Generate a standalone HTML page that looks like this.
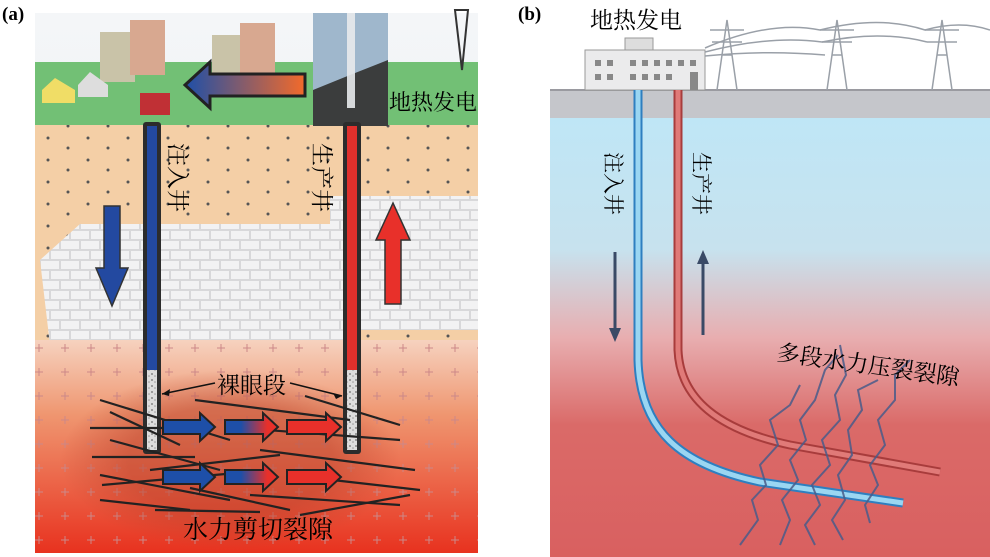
<!DOCTYPE html>
<html><head><meta charset="utf-8"><style>
html,body{margin:0;padding:0;background:#fff;width:990px;height:557px;overflow:hidden}
svg text{font-family:"Liberation Serif","Noto Serif CJK SC",serif}
</style></head><body>
<svg width="990" height="557" viewBox="0 0 990 557" xmlns="http://www.w3.org/2000/svg">
<defs>
<linearGradient id="redA" x1="0" y1="0" x2="0" y2="1">
<stop offset="0" stop-color="#f6d2bf"/><stop offset="0.35" stop-color="#ef9670"/><stop offset="1" stop-color="#e8321f"/></linearGradient>
<linearGradient id="skyA" x1="0" y1="0" x2="0" y2="1"><stop offset="0" stop-color="#f4f6f8"/><stop offset="1" stop-color="#e4ebee"/></linearGradient>
<linearGradient id="arrL" x1="0" x2="1"><stop offset="0" stop-color="#1e4fa8"/><stop offset="1" stop-color="#f36a2a"/></linearGradient>
<linearGradient id="arrM" x1="0" x2="1"><stop offset="0.3" stop-color="#1e4fa8"/><stop offset="0.8" stop-color="#e8302a"/></linearGradient>
<linearGradient id="bgB" x1="0" y1="0" x2="0" y2="1">
<stop offset="0" stop-color="#bfe6f6"/><stop offset="0.3" stop-color="#c7e2ee"/><stop offset="0.5" stop-color="#e8aeb0"/><stop offset="0.7" stop-color="#da6a68"/><stop offset="1" stop-color="#d96060"/></linearGradient>
<radialGradient id="blob" cx="0.5" cy="0.5" r="0.5"><stop offset="0.6" stop-color="#b8402a" stop-opacity="0.5"/><stop offset="1" stop-color="#b8402a" stop-opacity="0"/></radialGradient>
<pattern id="dots" width="40" height="22" patternUnits="userSpaceOnUse"><circle cx="8" cy="6" r="1.5" fill="#555"/><circle cx="28" cy="16" r="1.5" fill="#555"/></pattern>
<pattern id="bricks" width="40" height="20" patternUnits="userSpaceOnUse"><rect width="40" height="20" fill="#d8d8da"/><rect x="1" y="1" width="18" height="8" fill="#f2f2f3"/><rect x="21" y="1" width="18" height="8" fill="#f2f2f3"/><rect x="-9" y="11" width="18" height="8" fill="#f2f2f3"/><rect x="11" y="11" width="18" height="8" fill="#f2f2f3"/><rect x="31" y="11" width="18" height="8" fill="#f2f2f3"/></pattern>
<pattern id="plus" width="26" height="24" patternUnits="userSpaceOnUse"><path d="M13 8v8M9 12h8" stroke="#c88" stroke-width="1"/></pattern>
<pattern id="gravel" width="6" height="6" patternUnits="userSpaceOnUse"><rect width="6" height="6" fill="#ddd"/><circle cx="2" cy="2" r="1" fill="#888"/><circle cx="5" cy="4" r="0.8" fill="#999"/></pattern>
</defs>

<!-- Panel A -->
<text x="2" y="20" font-size="19" font-weight="bold" font-family="Liberation Serif">(a)</text>
<rect x="35" y="13" width="443" height="540" fill="url(#skyA)"/>
<rect x="35" y="62" width="443" height="64" fill="#72c075"/>
<rect x="35" y="125" width="443" height="220" fill="#f4cfa6"/>
<rect x="35" y="125" width="443" height="220" fill="url(#dots)"/>
<polygon points="80,224 330,224 330,196 478,196 478,330 360,330 360,345 50,345 40,260" fill="url(#bricks)"/>
<rect x="35" y="340" width="443" height="213" fill="url(#redA)"/>
<rect x="35" y="340" width="443" height="213" fill="url(#plus)"/>
<rect x="60" y="370" width="340" height="180" fill="url(#blob)"/>
<!-- buildings -->
<rect x="100" y="32" width="35" height="50" fill="#c9c3a8"/><rect x="130" y="20" width="35" height="55" fill="#d8a890"/>
<rect x="212" y="35" width="35" height="45" fill="#c9c3a8"/><rect x="240" y="23" width="35" height="50" fill="#d8a890"/>
<polygon points="42,90 55,78 75,90 75,103 42,103" fill="#f0dd66"/><polygon points="78,85 90,72 108,85 108,97 78,97" fill="#ddd"/>
<rect x="140" y="93" width="30" height="22" fill="#c03035"/>
<polygon points="185,85 210,62 210,74 305,74 305,96 210,96 210,108" fill="url(#arrL)" stroke="#222" stroke-width="3"/>
<rect x="313" y="13" width="75" height="113" fill="#9fb7cc"/>
<polygon points="313,90 350,75 388,60 388,126 313,126" fill="#3b3d3d"/>
<rect x="347" y="13" width="8" height="95" fill="#e8eaec" opacity="0.9"/>
<path d="M455 10 L468 10 L462 70Z" fill="none" stroke="#333" stroke-width="2"/>
<text x="389" y="110" font-size="22">地热发电</text>
<!-- wells -->
<rect x="143" y="122" width="18" height="332" rx="3" fill="#2c2c2c"/>
<rect x="147" y="126" width="10" height="244" fill="#2349a0"/>
<rect x="147" y="370" width="10" height="80" fill="url(#gravel)"/>
<rect x="343" y="122" width="18" height="332" rx="3" fill="#2c2c2c"/>
<rect x="347" y="126" width="10" height="244" fill="#e0302c"/>
<rect x="347" y="370" width="10" height="80" fill="url(#gravel)"/>
<text font-size="23" transform="translate(170,143) rotate(90)">注入井</text>
<text font-size="23" transform="translate(314,143) rotate(90)">生产井</text>
<polygon points="104,206 120,206 120,268 128,268 112,306 96,268 104,268" fill="#2349a0" stroke="#333" stroke-width="1.5"/>
<polygon points="385,304 401,304 401,240 410,240 393,203 376,240 385,240" fill="#e8302a" stroke="#333" stroke-width="1.5"/>
<!-- fractures -->
<g stroke="#222" stroke-width="2.2">
<line x1="100" y1="400" x2="230" y2="440"/><line x1="110" y1="412" x2="180" y2="445"/><line x1="90" y1="428" x2="180" y2="428"/><line x1="195" y1="400" x2="350" y2="420"/><line x1="240" y1="428" x2="400" y2="440"/><line x1="305" y1="396" x2="400" y2="425"/><line x1="110" y1="440" x2="220" y2="470"/><line x1="92" y1="457" x2="195" y2="457"/><line x1="150" y1="470" x2="280" y2="455"/><line x1="260" y1="450" x2="415" y2="470"/><line x1="100" y1="475" x2="230" y2="500"/><line x1="102" y1="485" x2="270" y2="470"/><line x1="100" y1="500" x2="190" y2="510"/><line x1="190" y1="488" x2="290" y2="510"/><line x1="250" y1="495" x2="400" y2="505"/><line x1="315" y1="478" x2="420" y2="490"/><line x1="300" y1="515" x2="410" y2="495"/><line x1="155" y1="510" x2="260" y2="512"/>
</g>
<g stroke="#222" stroke-width="2">
<polygon points="163,420 200,420 200,413 215,427 200,441 200,434 163,434" fill="#1e4fa8"/>
<polygon points="225,420 263,420 263,413 278,427 263,441 263,434 225,434" fill="url(#arrM)"/>
<polygon points="287,420 326,420 326,413 341,427 326,441 326,434 287,434" fill="#e8302a"/>
<polygon points="163,470 200,470 200,463 215,477 200,491 200,484 163,484" fill="#1e4fa8"/>
<polygon points="225,470 263,470 263,463 278,477 263,491 263,484 225,484" fill="url(#arrM)"/>
<polygon points="287,470 326,470 326,463 341,477 326,491 326,484 287,484" fill="#e8302a"/>
</g>
<text x="217" y="393" font-size="23">裸眼段</text>
<path d="M215 383 L162 394 M290 383 L342 396" stroke="#111" stroke-width="1.5"/>
<path d="M162 394 l8 -5 l-1 7z M342 396 l-9 -3 l3 6z" fill="#111"/>
<text x="183" y="538" font-size="25">水力剪切裂隙</text>

<!-- Panel B -->
<text x="518" y="20" font-size="19" font-weight="bold" font-family="Liberation Serif">(b)</text>
<rect x="550" y="118" width="440" height="439" fill="url(#bgB)"/>
<rect x="550" y="90" width="440" height="28" fill="#c5c6cb"/>
<line x1="550" y1="90" x2="990" y2="90" stroke="#9a9aa0" stroke-width="2"/>
<rect x="585" y="50" width="120" height="40" fill="#ebebec" stroke="#999"/>
<rect x="625" y="38" width="28" height="12" fill="#ddd" stroke="#999"/>
<g fill="#888"><rect x="595" y="60" width="6" height="6"/><rect x="607" y="60" width="6" height="6"/><rect x="630" y="60" width="6" height="6"/><rect x="642" y="60" width="6" height="6"/><rect x="654" y="60" width="6" height="6"/><rect x="666" y="60" width="6" height="6"/><rect x="678" y="60" width="6" height="6"/><rect x="690" y="60" width="6" height="6"/><rect x="595" y="74" width="6" height="6"/><rect x="607" y="74" width="6" height="6"/><rect x="630" y="74" width="6" height="6"/><rect x="642" y="74" width="6" height="6"/><rect x="654" y="74" width="6" height="6"/><rect x="666" y="74" width="6" height="6"/><rect x="690" y="72" width="8" height="18"/></g>
<text x="590" y="28" font-size="23">地热发电</text>
<g stroke="#9aa0a8" stroke-width="1.5" fill="none">
<path d="M717 90 L727 20 L737 90 M722 55 L732 55 M710 30 L744 30 M712 42 L742 42"/>
<path d="M827 90 L837 20 L847 90 M832 55 L842 55 M820 30 L854 30 M822 42 L852 42"/>
<path d="M932 90 L942 20 L952 90 M937 55 L947 55 M925 30 L959 30 M927 42 L957 42"/>
<path d="M705 48 Q770 20 820 30 Q880 15 925 30 Q960 20 990 30 M705 52 Q770 35 822 42 Q880 30 927 42 M705 56 Q765 50 825 55"/>
</g>
<!-- pipes -->
<path d="M638 90 V360 C640 430 680 465 760 482 L903 503" fill="none" stroke="#2e7fc0" stroke-width="9"/>
<path d="M638 90 V360 C640 430 680 465 760 482 L903 503" fill="none" stroke="#9ad6f2" stroke-width="5"/>
<path d="M678 90 V350 C680 400 720 430 790 445 L940 472" fill="none" stroke="#a83c3c" stroke-width="9"/>
<path d="M678 90 V350 C680 400 720 430 790 445 L940 472" fill="none" stroke="#e07a78" stroke-width="5"/>
<g stroke="#4a5c8a" stroke-width="2" fill="none" opacity="0.85">
<path d="M740 545 L758 520 L752 500 L766 485 L760 465 L778 445 L770 420 L790 405 L800 385"/>
<path d="M780 545 L790 520 L782 500 L798 480 L790 460 L806 440 L800 420 L815 400 L825 370 L838 355"/>
<path d="M815 545 L805 525 L820 505 L812 485 L830 465 L822 440 L840 420 L835 395 L846 375 L840 345"/>
<path d="M843 540 L832 520 L845 500 L838 475 L852 455 L848 430 L862 410 L858 390 L878 380"/>
<path d="M870 523 L865 505 L878 485 L870 465 L885 445 L878 420 L895 400 L895 375 L910 360"/>
</g>
<g fill="#3a4a66" stroke="#3a4a66" stroke-width="3">
<line x1="615" y1="252" x2="615" y2="330"/><polygon points="609,328 621,328 615,342" stroke="none"/>
<line x1="703" y1="262" x2="703" y2="335"/><polygon points="697,264 709,264 703,250" stroke="none"/>
</g>
<text font-size="21" transform="translate(606,152) rotate(90)">注入井</text>
<text font-size="21" transform="translate(694,152) rotate(90)">生产井</text>
<text font-size="23" transform="translate(776,360) rotate(8)">多段水力压裂裂隙</text>
</svg>
</body></html>
